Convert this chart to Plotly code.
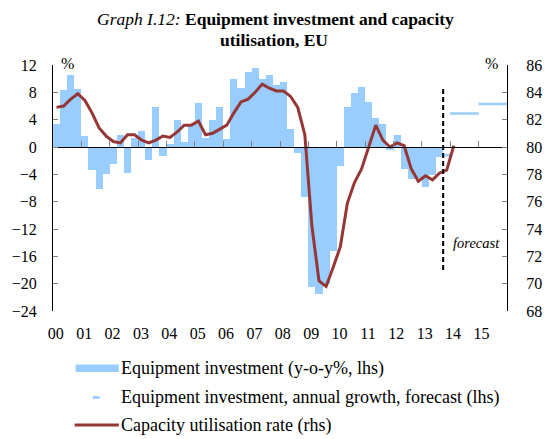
import plotly.graph_objects as go

# ---- data ----
FIRST_YEAR = 2000
YEAR_LABELS = ["00", "01", "02", "03", "04", "05", "06", "07",
               "08", "09", "10", "11", "12", "13", "14", "15"]

# Equipment investment, y-o-y %, quarterly from 2000Q1 to 2013Q3 (lhs)
invest_yoy = [
    3.4, 8.3, 10.5, 8.5,
    1.6, -3.4, -6.1, -3.9,
    -2.5, 1.7, -3.8, 1.3,
    2.3, -1.9, 5.9, -1.3,
    0.5, 4.0, 0.7, 3.3,
    6.4, 1.3, 4.0, 5.8,
    1.2, 10.0, 8.6, 11.0,
    11.6, 9.9, 10.5, 9.1,
    9.5, 2.6, -0.9, -7.3,
    -20.5, -21.5, -20.0, -15.2,
    -2.8, 5.9, 7.9, 8.8,
    6.6, 4.3, 3.3, -0.5,
    1.8, -3.2, -4.7, -4.6,
    -5.8, -4.1, -1.4,
]

# Capacity utilisation rate, %, quarterly from 2000Q1 to 2014Q1 (rhs)
capacity_util = [
    82.9, 83.0, 83.5, 83.9,
    83.4, 82.5, 81.4, 80.8,
    80.4, 80.3, 80.9, 80.9,
    80.5, 80.3, 80.5, 80.8,
    80.7, 81.1, 81.6, 81.6,
    81.9, 80.9, 81.0, 81.3,
    81.6, 82.5, 83.3, 83.5,
    84.0, 84.6, 84.3, 84.1,
    84.1, 83.7, 82.9, 80.9,
    74.2, 70.2, 69.8, 71.2,
    72.7, 75.9, 77.4, 78.4,
    80.0, 81.6, 80.5, 80.0,
    80.3, 80.1, 78.4, 77.5,
    77.9, 77.6, 78.1, 78.3,
    80.1,
]

# Equipment investment, annual growth forecast (lhs)
forecast_years = [2013, 2014, 2015]
forecast_growth = [-1.2, 4.9, 6.3]

BLUE = "#99CCFF"
RED = "#953735"
FONT = "Liberation Serif"


def quarter_x(i):
    return FIRST_YEAR + (i + 0.5) / 4


inv_x = [quarter_x(i) for i in range(len(invest_yoy))]
cu_x = [quarter_x(i) for i in range(len(capacity_util))]
forecast_start = FIRST_YEAR + len(invest_yoy) / 4  # first quarter not covered by outturn

fx, fy = [], []
for yr, v in zip(forecast_years, forecast_growth):
    fx += [max(yr, forecast_start), yr + 1, None]
    fy += [v, v, None]

fig = go.Figure()
fig.add_trace(go.Bar(
    x=inv_x, y=invest_yoy, width=0.25,
    marker=dict(color=BLUE, line=dict(width=0)),
    showlegend=False, hoverinfo="x+y",
))
fig.add_trace(go.Scatter(
    x=fx, y=fy, mode="lines",
    line=dict(color=BLUE, width=2.5),
    showlegend=False, hoverinfo="skip",
))
fig.add_trace(go.Scatter(
    x=cu_x, y=capacity_util, mode="lines",
    line=dict(color=RED, width=3),
    xaxis="x2", yaxis="y2",
    showlegend=False,
))

# plot area in pixels
L, R, T, B = 53, 515, 65, 311
W_FIG, H_FIG = 554, 439


def px(x):
    return (x - L) / (R - L)


def py(y):
    return (B - y) / (B - T)


shapes = [
    # forecast divider
    dict(type="line", xref="x", yref="y", x0=forecast_start, x1=forecast_start,
         y0=8.5, y1=-18.0, line=dict(color="black", width=2, dash="5px,3px")),
    # legend symbols
    dict(type="rect", xref="paper", yref="paper", x0=px(76), x1=px(120),
         y0=py(364.5), y1=py(372), fillcolor=BLUE, line=dict(width=0)),
    dict(type="line", xref="paper", yref="paper", x0=px(93.5), x1=px(100.5),
         y0=py(397.5), y1=py(397.5), line=dict(color=BLUE, width=2.7)),
    dict(type="line", xref="paper", yref="paper", x0=px(75), x1=px(120),
         y0=py(425), y1=py(425), line=dict(color=RED, width=3)),
]

tf = dict(family=FONT, size=16, color="black")
lf = dict(family=FONT, size=18, color="black")
ttl = dict(family=FONT, size=17.5, color="black")
annotations = [
    dict(text="<i>Graph I.12:</i> <b>Equipment investment and capacity</b>",
         xref="paper", yref="paper", x=px(279), y=py(19),
         showarrow=False, font=ttl, xanchor="center", yanchor="middle"),
    dict(text="<b>utilisation, EU</b>",
         xref="paper", yref="paper", x=px(278), y=py(40),
         showarrow=False, font=ttl, xanchor="center", yanchor="middle"),
    dict(text="%", xref="paper", yref="paper", x=px(67.5), y=py(64),
         showarrow=False, font=tf, xanchor="center", yanchor="middle"),
    dict(text="%", xref="paper", yref="paper", x=px(499), y=py(64),
         showarrow=False, font=tf, xanchor="center", yanchor="middle"),
    dict(text="<i>forecast</i>", xref="paper", yref="paper", x=px(484), y=py(243),
         showarrow=False, font=dict(family=FONT, size=14.5, color="black"),
         xanchor="center", yanchor="middle"),
    dict(text="Equipment investment (y-o-y%, lhs)", xref="paper", yref="paper",
         x=px(120), y=py(368.5), showarrow=False, font=lf, xanchor="left", yanchor="middle"),
    dict(text="Equipment investment, annual growth, forecast (lhs)", xref="paper",
         yref="paper", x=px(120), y=py(397.5), showarrow=False, font=lf,
         xanchor="left", yanchor="middle"),
    dict(text="Capacity utilisation rate (rhs)", xref="paper", yref="paper",
         x=px(120), y=py(425), showarrow=False, font=lf, xanchor="left", yanchor="middle"),
]

years = list(range(FIRST_YEAR, FIRST_YEAR + len(YEAR_LABELS)))
label_pos = [y + 0.1 for y in years]  # labels sit a touch right of the year ticks

fig.update_layout(
    width=W_FIG, height=H_FIG,
    margin=dict(l=L, r=W_FIG - R, t=T, b=H_FIG - B, pad=0),
    paper_bgcolor="white", plot_bgcolor="white",
    font=tf,
    bargap=0,
    xaxis=dict(
        range=[FIRST_YEAR, FIRST_YEAR + 16], tickvals=label_pos, ticktext=YEAR_LABELS,
        showline=False, ticks="", showgrid=False, zeroline=False,
        ticklabelstandoff=11, tickfont=tf, fixedrange=True,
    ),
    xaxis2=dict(
        range=[FIRST_YEAR, FIRST_YEAR + 16], overlaying="x", anchor="free",
        position=24 / 36, side="bottom",
        showline=True, linecolor="black", linewidth=1.2,
        ticks="inside", ticklen=6, tickcolor="#808080", tickwidth=1,
        tickvals=years[1:], showticklabels=False, showgrid=False, zeroline=False,
    ),
    yaxis=dict(
        range=[-24, 12], tickvals=list(range(-24, 13, 4)),
        showline=True, linecolor="black", linewidth=1.2,
        ticks="inside", ticklen=5, tickcolor="#808080",
        showgrid=False, zeroline=False, ticklabelstandoff=12, tickfont=tf,
    ),
    yaxis2=dict(
        range=[68, 86], tickvals=list(range(68, 87, 2)), overlaying="y",
        side="right", anchor="x",
        showline=True, linecolor="black", linewidth=1.2,
        ticks="inside", ticklen=5, tickcolor="#808080",
        showgrid=False, zeroline=False, ticklabelstandoff=15, tickfont=tf,
    ),
    shapes=shapes,
    annotations=annotations,
)

# the page body has a default 8px margin; drop it so the figure fills the window
fig.write_html("out.html", config={"displayModeBar": False},
               post_script="document.body.style.margin='0';")
